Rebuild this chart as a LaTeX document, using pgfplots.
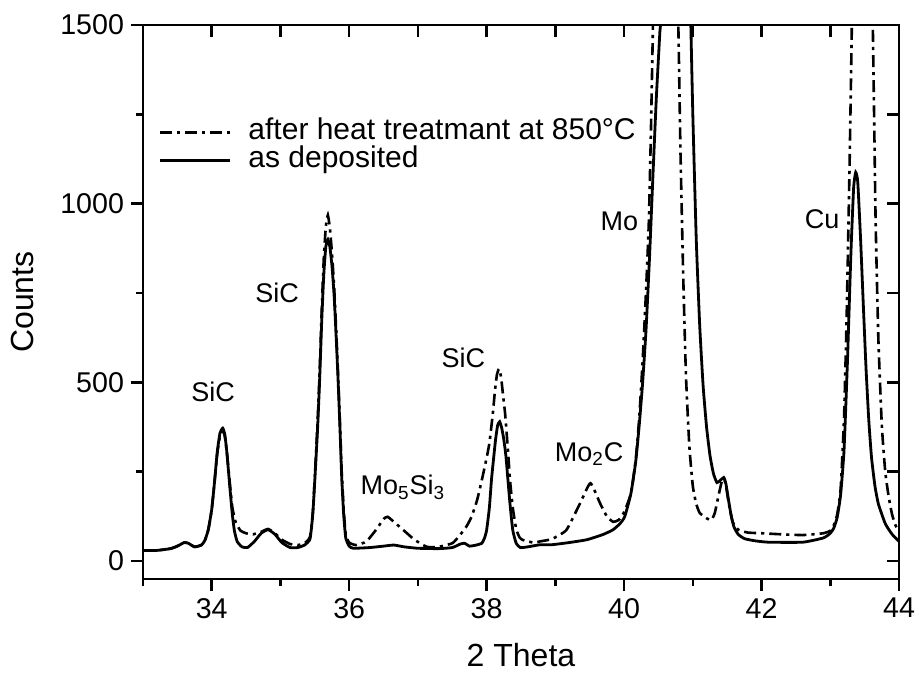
\documentclass[border=0pt]{standalone}
\usepackage{fontspec}
\setmainfont{Liberation Sans}
\usepackage{pgfplots}
\pgfplotsset{compat=1.18}
\usetikzlibrary{calc}
\pgfplotstableread{
x y
33.00 30
33.20 30
33.40 35
33.50 42
33.60 52
33.66 50
33.75 40
33.85 45
33.90 58
33.95 88
34.00 145
34.04 220
34.08 305
34.12 358
34.16 372
34.19 355
34.22 305
34.26 215
34.30 130
34.33 85
34.37 55
34.44 40
34.52 38
34.62 55
34.72 78
34.82 88
34.92 75
35.02 52
35.14 38
35.25 38
35.35 45
35.43 62
35.47 130
35.50 227
35.54 370
35.57 507
35.60 670
35.63 800
35.66 880
35.69 900
35.72 878
35.75 825
35.78 745
35.81 630
35.84 500
35.87 350
35.89 240
35.92 130
35.95 65
36.00 42
36.06 36
36.30 38
36.50 42
36.65 45
36.80 40
37.00 36
37.30 35
37.50 38
37.62 48
37.68 50
37.75 42
37.85 45
37.93 50
37.97 65
38.00 87
38.04 150
38.07 227
38.10 285
38.13 340
38.16 380
38.19 390
38.22 372
38.25 340
38.28 295
38.31 227
38.34 160
38.38 87
38.43 50
38.49 38
38.60 40
38.78 46
38.95 46
39.20 52
39.46 60
39.70 75
39.84 88
39.94 105
40.01 125
40.10 190
40.17 280
40.22 380
40.27 500
40.32 650
40.37 850
40.42 1080
40.47 1300
40.52 1480
40.56 1650
40.75 3500
40.96 1600
41.00 1250
41.05 900
41.10 660
41.15 490
41.20 375
41.25 295
41.30 245
41.35 220
41.40 226
41.45 234
41.48 218
41.52 170
41.56 125
41.60 95
41.66 75
41.75 63
41.90 57
42.10 53
42.60 53
42.90 65
43.00 78
43.05 92
43.10 122
43.15 185
43.20 310
43.25 560
43.30 860
43.34 1045
43.37 1088
43.40 1060
43.44 905
43.48 720
43.52 540
43.56 395
43.60 290
43.65 210
43.70 160
43.80 105
43.90 75
44.00 55
}\asdep
\pgfplotstableread{
x y
33.00 30
33.20 30
33.40 35
33.50 42
33.60 52
33.66 50
33.75 40
33.85 45
33.90 58
33.95 88
34.00 145
34.04 220
34.08 300
34.12 350
34.16 365
34.19 350
34.22 305
34.26 225
34.30 150
34.35 108
34.42 85
34.50 78
34.60 75
34.72 82
34.82 90
34.92 78
35.02 60
35.14 48
35.25 45
35.35 50
35.43 68
35.47 135
35.50 235
35.54 390
35.57 530
35.60 700
35.63 845
35.66 935
35.69 968
35.72 930
35.75 860
35.78 770
35.81 650
35.84 515
35.87 365
35.89 255
35.92 145
35.95 75
36.00 52
36.10 45
36.25 55
36.40 90
36.50 118
36.56 124
36.65 110
36.80 85
36.95 60
37.13 40
37.30 40
37.50 50
37.59 68
37.70 95
37.78 124
37.86 170
37.93 227
37.99 280
38.04 330
38.09 413
38.12 475
38.15 522
38.18 538
38.21 515
38.24 462
38.27 410
38.31 310
38.34 227
38.38 150
38.43 90
38.48 66
38.53 59
38.68 52
38.80 56
38.95 62
39.16 87
39.36 162
39.51 218
39.65 162
39.75 125
39.84 110
39.92 115
40.00 137
40.10 190
40.17 285
40.22 400
40.27 560
40.32 760
40.36 950
40.39 1200
40.42 1500
40.45 1800
40.60 3500
40.78 1600
40.82 1150
40.86 800
40.90 520
40.95 320
41.00 210
41.05 160
41.10 135
41.20 120
41.27 115
41.32 135
41.37 180
41.42 222
41.45 230
41.48 215
41.52 165
41.58 110
41.66 88
41.80 80
42.00 78
42.30 75
42.60 73
42.90 78
43.00 85
43.05 100
43.10 130
43.15 200
43.20 400
43.24 700
43.28 1100
43.31 1450
43.33 1700
43.47 2600
43.60 1700
43.63 1350
43.66 950
43.70 620
43.75 380
43.80 250
43.85 180
43.90 130
43.95 100
44.00 82
}\heat
\begin{document}
\begin{tikzpicture}
\begin{axis}[
  name=ax,
  at={(0,0)}, anchor=south west,
  scale only axis, width=378pt, height=277pt,
  xmin=33, xmax=44, ymin=-50, ymax=1500,
  xtick={32,34,...,44}, ytick={0,500,1000,1500},
  minor x tick num=1, minor y tick num=1,
  xtick pos=bottom, ytick pos=left,
  tick align=outside,
  major tick length=6pt, minor tick length=3.5pt,
  every tick/.style={black, line width=1.3pt},
  axis line style={line width=1.4pt},
  /pgf/number format/assume math mode=true,
  /pgf/number format/1000 sep={},
  tick label style={font=\fontsize{14.3}{16}\selectfont},
  xlabel={2 Theta}, ylabel={Counts},
  label style={font=\fontsize{16}{18}\selectfont},
  x label style={at={(axis description cs:0.5,-0.137)}, anchor=center},
  y label style={at={(axis description cs:-0.16,0.5)}, anchor=center},
  legend style={draw=none, fill=none, at={(axis description cs:0.012,0.84)}, anchor=north west,
    font=\fontsize{15}{17}\selectfont,
    nodes={text height=10pt, text depth=3pt, inner sep=0.6pt}},
  legend cell align=left,
  legend image code/.code={\draw[#1] (0pt,0pt) -- (35pt,0pt);},
  clip=true,
]
\addplot[black, line width=1.3pt, smooth, tension=0.3, dash pattern=on 6pt off 2.5pt on 1.6pt off 2.5pt] table[x=x,y=y] {\heat};
\addlegendentry{\hspace*{8pt}after heat treatmant at 850°C}
\addplot[black, line width=1.4pt, smooth, tension=0.3] table[x=x,y=y] {\asdep};
\addlegendentry{\hspace*{8pt}as deposited}
\node[font=\fontsize{13.5}{15}\selectfont] at (axis cs:34.02,473) {SiC};
\node[font=\fontsize{13.5}{15}\selectfont] at (axis cs:34.95,750) {SiC};
\node[font=\fontsize{13.5}{15}\selectfont] at (axis cs:36.78,207) {Mo\textsubscript{5}Si\textsubscript{3}};
\node[font=\fontsize{13.5}{15}\selectfont] at (axis cs:37.66,568) {SiC};
\node[font=\fontsize{13.5}{15}\selectfont] at (axis cs:39.49,300) {Mo\textsubscript{2}C};
\node[font=\fontsize{13.5}{15}\selectfont] at (axis cs:39.93,951) {Mo};
\node[font=\fontsize{13.5}{15}\selectfont] at (axis cs:42.88,958) {Cu};
\end{axis}
\begin{axis}[
  at={(0,0)}, anchor=south west,
  scale only axis, width=378pt, height=277pt,
  xmin=33, xmax=44, ymin=-50, ymax=1500,
  xtick={33,...,44}, ytick={0,250,...,1500},
  xtick pos=top, ytick pos=right,
  tick align=inside,
  major tick length=6pt,
  every tick/.style={black, line width=1.3pt},
  axis line style={line width=1.4pt},
  xticklabels={}, yticklabels={},
]
\end{axis}
\pgfresetboundingbox
\path[use as bounding box] ($(ax.south west)+(-71.5pt,-51.5pt)$) rectangle ($(ax.north east)+(10pt,12.5pt)$);
\end{tikzpicture}
\end{document}
